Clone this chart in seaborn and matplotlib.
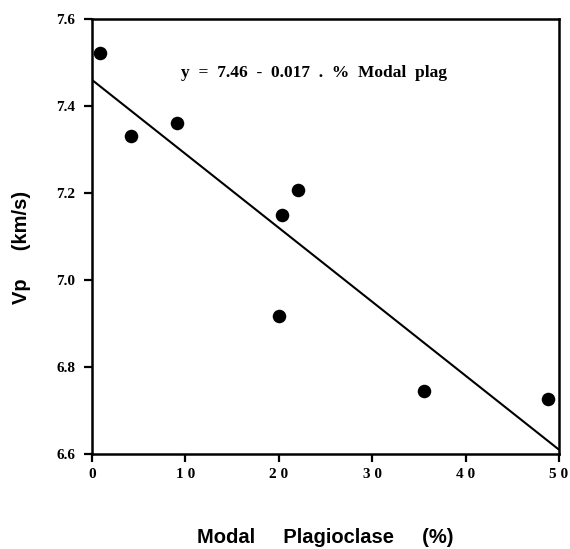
import seaborn as sns
import matplotlib.pyplot as plt
import numpy as np
import pandas as pd

# data
plag = [0.9, 4.2, 9.1, 20.0, 20.3, 22.1, 35.5, 48.8]
vp = [7.522, 7.332, 7.361, 6.918, 7.149, 7.208, 6.745, 6.727]
intercept = 7.46
slope = -0.017
xticks = [0, 10, 20, 30, 40, 50]
xticklabels = ["0", "1 0", "2 0", "3 0", "4 0", "5 0"]
yticks = [6.6, 6.8, 7.0, 7.2, 7.4, 7.6]
yticklabels = ["6.6", "6.8", "7.0", "7.2", "7.4", "7.6"]

df = pd.DataFrame({"plag": plag, "vp": vp})
fit = pd.DataFrame({"plag": [0, 50]})
fit["vp"] = intercept + slope * fit["plag"]

sns.set_style("ticks")
plt.rcParams["text.color"] = "black"
plt.rcParams["axes.labelcolor"] = "black"
fig = plt.figure(figsize=(5.7, 5.49), dpi=100)
ax = fig.add_axes([0.1614, 0.173, 0.8193, 0.7924])

sns.lineplot(data=fit, x="plag", y="vp", color="black", linewidth=1.5, ax=ax)
sns.scatterplot(data=df, x="plag", y="vp", color="black", s=95,
                linewidth=0, ax=ax, zorder=3)

ax.set_xlim(0, 50)
ax.set_ylim(6.6, 7.6)
ax.set_xticks(xticks)
ax.set_xticklabels(xticklabels, fontfamily="Liberation Serif",
                   fontweight="bold", fontsize=11)
ax.set_yticks(yticks)
ax.set_yticklabels(yticklabels, fontfamily="Liberation Serif",
                   fontweight="bold", fontsize=11)
ax.tick_params(direction="out", length=6, width=1.6, colors="black", pad=4)
ax.tick_params(axis="y", pad=6)
for s in ax.spines.values():
    s.set_linewidth(1.8)
    s.set_color("black")

ax.set_xlabel("Modal     Plagioclase     (%)", fontfamily="Liberation Sans",
              fontweight="bold", fontsize=14.5, labelpad=34, color="black")
ax.set_ylabel("Vp     (km/s)", fontfamily="Liberation Sans",
              fontweight="bold", fontsize=14.5, color="black")
ax.yaxis.set_label_coords(-0.13, 0.476)

ax.text(23.8, 7.475, "y  =  7.46  -  0.017  .  %  Modal  plag",
        ha="center", va="center", fontfamily="Liberation Serif",
        fontweight="bold", fontsize=12.5, color="black")

plt.savefig("out.png", dpi=100)
